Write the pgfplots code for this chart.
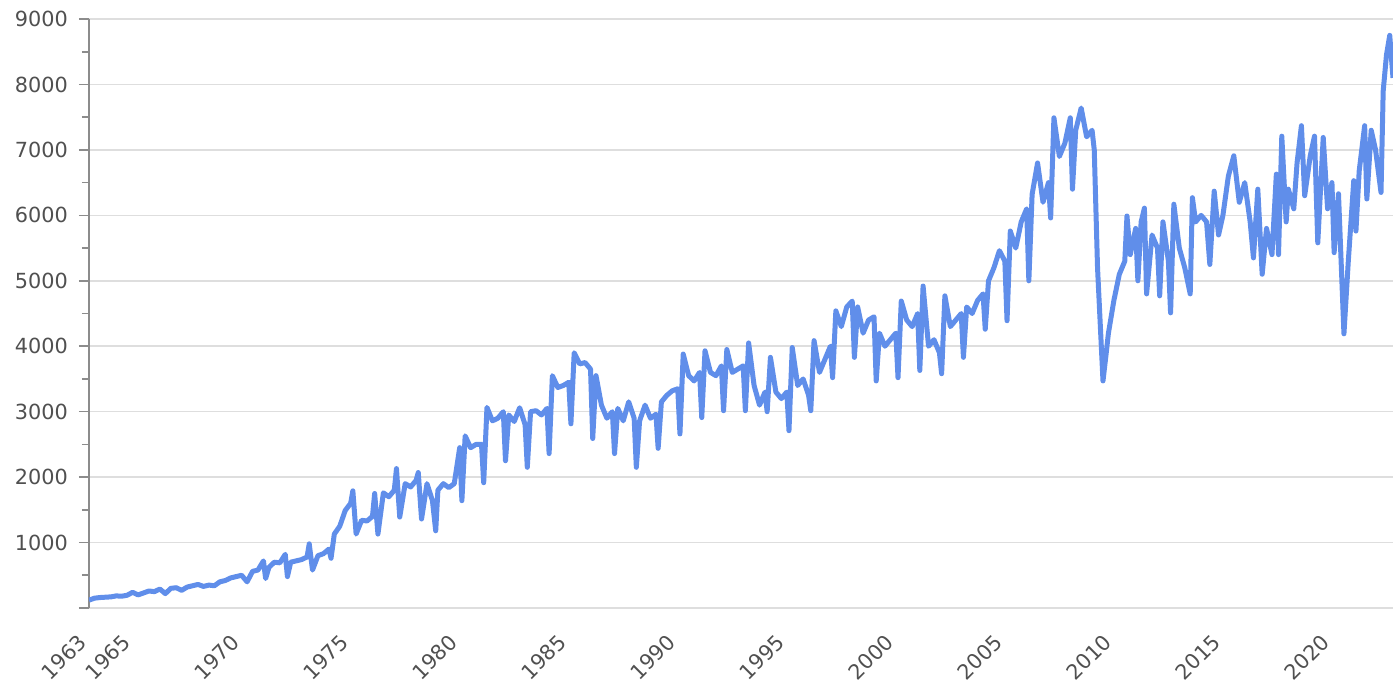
\documentclass[border=0pt]{standalone}
\usepackage{fontspec}
\setmainfont{DejaVu Sans}
\usepackage{pgfplots}
\pgfplotsset{compat=1.18}
\definecolor{linec}{RGB}{96,142,234}
\definecolor{gridc}{RGB}{222,222,222}
\definecolor{axc}{RGB}{140,140,140}
\definecolor{txt}{RGB}{80,80,80}
\begin{document}
\begin{tikzpicture}
\begin{axis}[
  at={(0,0)}, anchor=south west,
  scale only axis, width=652pt, height=294.5pt,
  xmin=1963, xmax=2022.8, ymin=0, ymax=9000,
  axis y line*=left, axis x line*=bottom,
  y axis line style={draw=axc, line width=0.8pt},
  x axis line style={draw=gridc, line width=0.8pt},
  ytick={0,1000,...,9000},
  yticklabels={,1000,2000,3000,4000,5000,6000,7000,8000,9000},
  minor y tick num=1,
  tick align=outside,
  major tick length=5pt, minor tick length=3.5pt,
  ytick style={draw=axc, line width=0.8pt},
  xtick={1963,1965,1970,1975,1980,1985,1990,1995,2000,2005,2010,2015,2020},
  xticklabels={1963,1965,1970,1975,1980,1985,1990,1995,2000,2005,2010,2015,2020},
  xtick style={draw=none},
  ymajorgrids, grid style={draw=gridc, line width=0.8pt},
  /pgf/number format/assume math mode=true,
  tick label style={font=\fontsize{10.4}{12}\selectfont, text=txt},
  xticklabel style={rotate=45, anchor=east, xshift=-6pt, yshift=-5pt},
  yticklabel style={xshift=-2pt},
]
\addplot[color=linec, line width=2.5pt, line join=round] coordinates {
(1963.00,120)(1963.25,150)(1963.50,160)(1963.75,165)(1964.00,170)(1964.25,185)(1964.50,180)(1964.75,195)
(1965.00,240)(1965.25,200)(1965.50,230)(1965.75,260)(1966.00,250)(1966.25,290)(1966.50,220)(1966.75,300)
(1967.00,310)(1967.25,270)(1967.50,320)(1967.75,340)(1968.00,360)(1968.25,330)(1968.50,350)(1968.75,340)
(1969.00,400)(1969.25,420)(1969.50,460)(1969.75,480)(1970.00,500)(1970.25,400)(1970.50,560)(1970.75,580)
(1971.00,720)(1971.10,450)(1971.25,620)(1971.50,700)(1971.75,690)(1972.00,820)(1972.10,480)(1972.25,700)
(1972.50,720)(1972.75,740)(1973.00,780)(1973.10,980)(1973.25,580)(1973.50,800)(1973.75,830)(1974.00,900)
(1974.10,760)(1974.25,1130)(1974.50,1250)(1974.75,1490)(1975.00,1600)(1975.10,1790)(1975.25,1130)(1975.50,1340)
(1975.75,1330)(1976.00,1400)(1976.10,1750)(1976.25,1130)(1976.50,1760)(1976.75,1700)(1977.00,1800)(1977.10,2130)
(1977.25,1390)(1977.50,1900)(1977.75,1850)(1978.00,1950)(1978.10,2070)(1978.25,1360)(1978.50,1900)(1978.75,1640)
(1978.90,1180)(1979.00,1800)(1979.25,1900)(1979.50,1840)(1979.75,1900)(1980.00,2450)(1980.10,1640)(1980.25,2630)
(1980.50,2450)(1980.75,2500)(1981.00,2500)(1981.10,1915)(1981.25,3065)(1981.50,2860)(1981.75,2900)(1982.00,3000)
(1982.10,2250)(1982.25,2950)(1982.50,2850)(1982.75,3060)(1983.00,2800)(1983.10,2150)(1983.25,3000)(1983.50,3015)
(1983.75,2950)(1984.00,3050)(1984.10,2360)(1984.25,3550)(1984.50,3370)(1984.75,3400)(1985.00,3450)(1985.10,2815)
(1985.25,3900)(1985.50,3730)(1985.75,3750)(1986.00,3650)(1986.10,2590)(1986.25,3550)(1986.50,3100)(1986.75,2900)
(1987.00,3000)(1987.10,2360)(1987.25,3050)(1987.50,2860)(1987.75,3150)(1988.00,2900)(1988.10,2150)(1988.25,2860)
(1988.50,3100)(1988.75,2900)(1989.00,2960)(1989.10,2440)(1989.25,3150)(1989.50,3250)(1989.75,3320)(1990.00,3350)
(1990.10,2660)(1990.25,3880)(1990.50,3550)(1990.75,3470)(1991.00,3600)(1991.10,2910)(1991.25,3930)(1991.50,3600)
(1991.75,3550)(1992.00,3700)(1992.10,3015)(1992.25,3950)(1992.50,3600)(1992.75,3650)(1993.00,3700)(1993.10,3015)
(1993.25,4050)(1993.50,3400)(1993.75,3100)(1994.00,3300)(1994.10,3000)(1994.25,3830)(1994.50,3300)(1994.75,3200)
(1995.00,3300)(1995.10,2710)(1995.25,3980)(1995.50,3400)(1995.75,3500)(1996.00,3250)(1996.10,3015)(1996.25,4085)
(1996.50,3600)(1996.75,3800)(1997.00,4000)(1997.10,3520)(1997.25,4540)(1997.50,4300)(1997.75,4600)(1998.00,4690)
(1998.10,3830)(1998.25,4600)(1998.50,4200)(1998.75,4400)(1999.00,4450)(1999.10,3470)(1999.25,4200)(1999.50,4000)
(1999.75,4100)(2000.00,4200)(2000.10,3520)(2000.25,4690)(2000.50,4400)(2000.75,4300)(2001.00,4500)(2001.10,3630)
(2001.25,4920)(2001.50,4000)(2001.75,4100)(2002.00,3900)(2002.10,3580)(2002.25,4770)(2002.50,4300)(2002.75,4400)
(2003.00,4500)(2003.10,3830)(2003.25,4600)(2003.50,4500)(2003.75,4700)(2004.00,4800)(2004.10,4260)(2004.25,5000)
(2004.50,5200)(2004.75,5460)(2005.00,5300)(2005.10,4390)(2005.25,5760)(2005.50,5500)(2005.75,5900)(2006.00,6100)
(2006.10,5000)(2006.25,6320)(2006.50,6800)(2006.75,6200)(2007.00,6500)(2007.10,5960)(2007.25,7490)(2007.50,6900)
(2007.75,7100)(2008.00,7490)(2008.10,6400)(2008.25,7300)(2008.50,7640)(2008.75,7200)(2009.00,7300)(2009.10,7000)
(2009.25,5200)(2009.50,3470)(2009.65,3900)(2009.75,4200)(2010.00,4700)(2010.25,5100)(2010.50,5300)(2010.60,5990)
(2010.75,5400)(2011.00,5800)(2011.10,5000)(2011.25,5900)(2011.40,6110)(2011.50,4800)(2011.75,5700)(2012.00,5500)
(2012.10,4770)(2012.25,5900)(2012.50,5300)(2012.60,4510)(2012.75,6170)(2013.00,5500)(2013.25,5200)(2013.50,4800)
(2013.60,6270)(2013.75,5900)(2014.00,6000)(2014.25,5900)(2014.40,5250)(2014.60,6370)(2014.80,5700)(2015.00,6000)
(2015.25,6600)(2015.50,6910)(2015.75,6200)(2016.00,6500)(2016.25,5900)(2016.40,5350)(2016.60,6400)(2016.80,5100)
(2017.00,5800)(2017.25,5400)(2017.45,6630)(2017.55,5400)(2017.70,7210)(2017.90,5900)(2018.00,6400)(2018.25,6100)
(2018.40,6800)(2018.60,7370)(2018.75,6300)(2019.00,6900)(2019.20,7210)(2019.35,5580)(2019.60,7190)(2019.80,6100)
(2020.00,6500)(2020.10,5430)(2020.30,6330)(2020.55,4190)(2020.75,5300)(2021.00,6530)(2021.10,5760)(2021.25,6680)
(2021.50,7370)(2021.60,6250)(2021.80,7300)(2022.00,7000)(2022.25,6350)(2022.35,7900)(2022.50,8450)(2022.65,8750)
(2022.80,8100)
};
\end{axis}
\pgfresetboundingbox
\path (-44.5pt,-39.5pt) rectangle (652pt,304pt);
\end{tikzpicture}
\end{document}
